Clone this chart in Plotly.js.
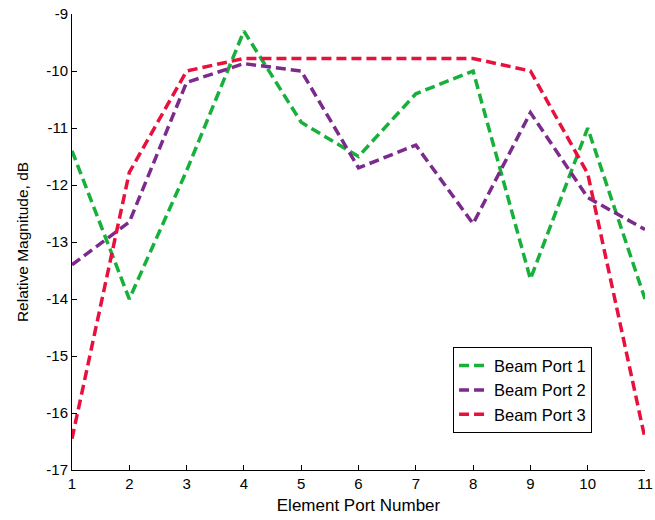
<!DOCTYPE html>
<html>
<head>
<meta charset="utf-8">
<script src="https://cdn.plot.ly/plotly-3.0.1.min.js"></script>
<style>
  html, body { margin: 0; padding: 0; background: #fff; }
  #chart { width: 655px; height: 520px; }
</style>
</head>
<body>
<div id="chart"></div>
<script>
// Element port indices
const ports = [1, 2, 3, 4, 5, 6, 7, 8, 9, 10, 11];

// Relative magnitude (dB) per beam port
const beamPort1 = [-11.4, -14.0, -11.75, -9.3, -10.9, -11.5, -10.4, -10.0, -13.65, -11.0, -14.0];
const beamPort2 = [-13.4, -12.65, -10.2, -9.87, -10.0, -11.7, -11.3, -12.68, -10.73, -12.22, -12.78];
const beamPort3 = [-16.45, -11.78, -10.0, -9.78, -9.78, -9.78, -9.78, -9.78, -10.0, -11.8, -16.45];

const seriesNames = ['Beam Port 1', 'Beam Port 2', 'Beam Port 3'];
const seriesColors = ['#17b03a', '#7b2b8c', '#e8103c'];

// Axis ticks
const xTickVals = [1, 2, 3, 4, 5, 6, 7, 8, 9, 10, 11];
const yTickVals = [-17, -16, -15, -14, -13, -12, -11, -10, -9];
const yTickText = ['-17', '-16', '-15', '-14', '-13', '-12', '-11', '-10', '-9'];

const allSeries = [beamPort1, beamPort2, beamPort3];
const traces = allSeries.map((vals, i) => ({
  x: ports,
  y: vals,
  type: 'scatter',
  mode: 'lines',
  name: seriesNames[i],
  line: { color: seriesColors[i], width: 3.5, dash: '10px,5px' }
}));

const family = 'Liberation Sans, Arial, sans-serif';
const tickFont = { family: family, size: 15, color: '#000' };
const legendFont = { family: family, size: 16.5, color: '#000' };

const layout = {
  width: 655,
  height: 520,
  margin: { l: 72, r: 10, t: 14, b: 50 },
  paper_bgcolor: '#fff',
  plot_bgcolor: '#fff',
  font: tickFont,
  showlegend: true,
  xaxis: {
    range: [1, 11],
    tickvals: xTickVals,
    ticks: 'inside',
    ticklen: 5,
    tickcolor: '#000',
    showline: true,
    linecolor: '#000',
    linewidth: 1,
    showgrid: false,
    zeroline: false,
    tickfont: tickFont,
    title: { text: 'Element Port Number', font: { family: family, size: 17, color: '#000' }, standoff: 8 }
  },
  yaxis: {
    range: [-17, -9],
    tickvals: yTickVals,
    ticktext: yTickText,
    ticks: 'inside',
    ticklen: 5,
    tickcolor: '#000',
    showline: true,
    linecolor: '#000',
    linewidth: 1,
    showgrid: false,
    zeroline: false,
    tickfont: tickFont,
    title: { text: 'Relative Magnitude, dB', font: { family: family, size: 15.5, color: '#000' }, standoff: 13 }
  },
  legend: {
    x: 0.665,
    y: 0.175,
    xanchor: 'left',
    yanchor: 'middle',
    bgcolor: '#fff',
    bordercolor: '#000',
    borderwidth: 1,
    font: legendFont,
    tracegroupgap: 0
  }
};

Plotly.newPlot('chart', traces, layout, { displayModeBar: false, staticPlot: true });
</script>
</body>
</html>
